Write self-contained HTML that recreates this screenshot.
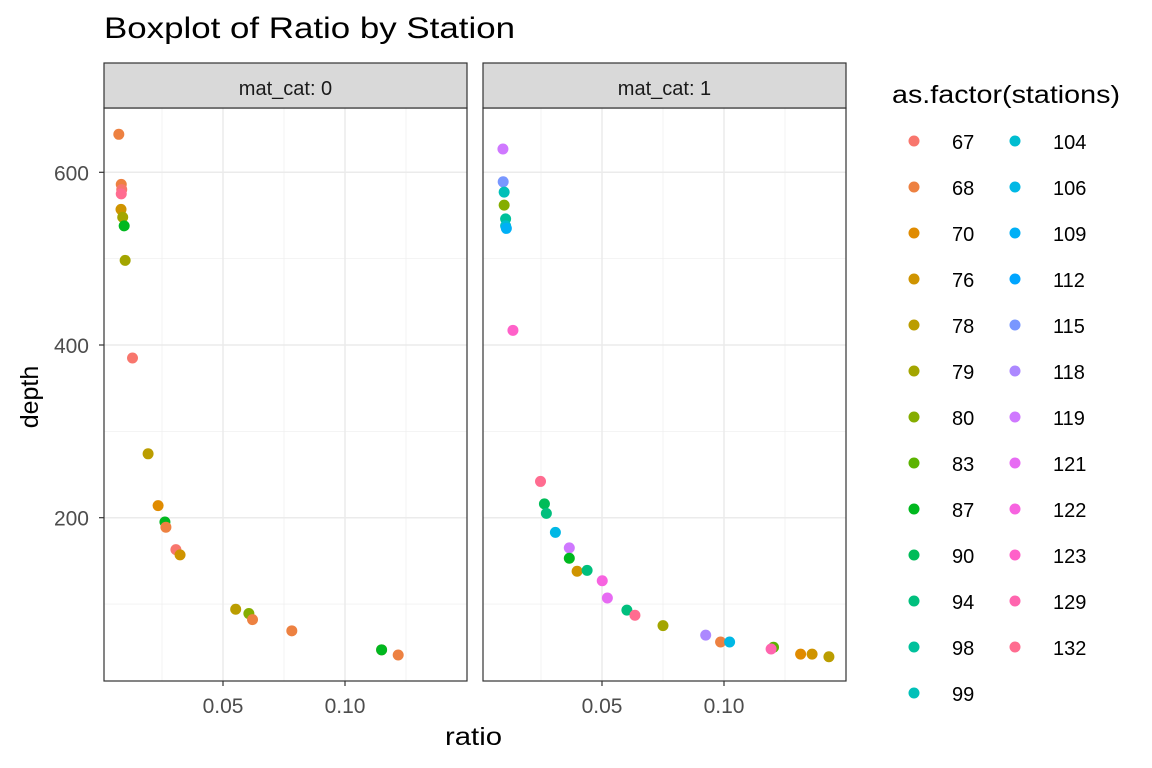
<!DOCTYPE html>
<html><head><meta charset="utf-8"><style>
body{margin:0;background:#fff;}
svg{display:block;font-family:"Liberation Sans",sans-serif;}
</style></head><body>
<svg id="chart" width="1152" height="768"></svg>
<script>
const levels=[67,68,70,76,78,79,80,83,87,90,94,98,99,104,106,109,112,115,118,119,121,122,123,129,132];
const p0Station=[68,68,67,132,76,79,87,79,67,78,70,87,68,67,76,78,80,68,68,67,87,68];
const p0Ratio=[0.0073,0.0083,0.0085,0.0083,0.0082,0.0089,0.0095,0.0099,0.0129,0.0193,0.0234,0.0262,0.0266,0.0307,0.0324,0.0552,0.0606,0.0621,0.0782,0.115,0.115,0.1218];
const p0Depth=[644,586,580,575,557,548,538,498,385,274,214,195,189,163,157,94,89,82,69,47,47,41];
const p1Station=[119,115,99,80,98,104,109,123,132,90,94,106,119,87,76,94,122,121,94,132,79,118,68,106,83,129,70,76,78];
const p1Ratio=[0.0094,0.0095,0.0099,0.0099,0.0105,0.0105,0.0108,0.0135,0.0248,0.0264,0.0272,0.0309,0.0366,0.0366,0.0398,0.0439,0.0501,0.0522,0.0602,0.0635,0.075,0.0925,0.0986,0.1023,0.1203,0.1193,0.1314,0.1361,0.143];
const p1Depth=[627,589,577,562,546,538,535,417,242,216,205,183,165,153,138,139,127,107,93,87,75,64,56,56,50,48,42,42,39];
const xTicks=[0.05,0.10];
const xTickLabels=["0.05","0.10"];
const yTicks=[200,400,600];

function hcl(h){const L=65,C=100,hr=h*Math.PI/180;const u=C*Math.cos(hr),v=C*Math.sin(hr);
 const Xn=95.047,Yn=100,Zn=108.883;const un=4*Xn/(Xn+15*Yn+3*Zn),vn=9*Yn/(Xn+15*Yn+3*Zn);
 const Y=Yn*Math.pow((L+16)/116,3);const up=u/(13*L)+un,vp=v/(13*L)+vn;
 const X=Y*9*up/(4*vp),Z=Y*(12-3*up-20*vp)/(4*vp);
 const x=X/100,y=Y/100,z=Z/100;
 let r=3.2406*x-1.5372*y-0.4986*z,g=-0.9689*x+1.8758*y+0.0415*z,b=0.0557*x-0.2040*y+1.0570*z;
 const f=c=>{c=c<=0.0031308?12.92*c:1.055*Math.pow(c,1/2.4)-0.055;return Math.round(Math.max(0,Math.min(1,c))*255);};
 return `rgb(${f(r)},${f(g)},${f(b)})`;}
const colors={};levels.forEach((l,i)=>colors[l]=hcl(15+360*i/levels.length));

const svg=document.getElementById('chart');const NS="http://www.w3.org/2000/svg";
function el(t,a,p){const e=document.createElementNS(NS,t);for(const k in a)e.setAttribute(k,a[k]);(p||svg).appendChild(e);return e;}
const panelTop=108,panelBot=681;
const ys=v=>345-(v-400)*0.8635;
const panels=[{l:104,r:467,lab:"mat_cat: 0",st:p0Station,rx:p0Ratio,d:p0Depth},{l:483,r:846,lab:"mat_cat: 1",st:p1Station,rx:p1Ratio,d:p1Depth}];
let t=el('text',{x:104,y:38,'font-size':'30',fill:'#000',textLength:'411',lengthAdjust:'spacingAndGlyphs'});t.textContent="Boxplot of Ratio by Station";


panels.forEach((p,pi)=>{
 const xs=v=>p.l+119+(v-0.05)*2440;
 const g=el('g',{});
 
 
 el('rect',{x:p.l,y:panelTop,width:p.r-p.l,height:panelBot-panelTop,fill:'#fff'},g);
 [0.025,0.075,0.125].forEach(v=>el('line',{x1:xs(v),x2:xs(v),y1:panelTop,y2:panelBot,stroke:'#f0f0f0','stroke-width':0.8},g));
 [100,300,500].forEach(v=>el('line',{x1:p.l,x2:p.r,y1:ys(v),y2:ys(v),stroke:'#f0f0f0','stroke-width':0.8},g));
 xTicks.forEach((v,i)=>{el('line',{x1:xs(v),x2:xs(v),y1:panelTop,y2:panelBot,stroke:'#ebebeb','stroke-width':1.5},g);
  el('line',{x1:xs(v),x2:xs(v),y1:panelBot,y2:panelBot+5,stroke:'#333','stroke-width':1.2},g);
  const tx=el('text',{x:xs(v),y:713,'font-size':'21','text-anchor':'middle',fill:'#4d4d4d'},g);tx.textContent=xTickLabels[i];
  
  });
 yTicks.forEach(v=>el('line',{x1:p.l,x2:p.r,y1:ys(v),y2:ys(v),stroke:'#ebebeb','stroke-width':1.5},g));
 p.rx.forEach((r,i)=>{const c=el('circle',{cx:xs(r),cy:ys(p.d[i]),r:5.5,fill:colors[p.st[i]]},g);
  
  });
 el('rect',{x:p.l,y:panelTop,width:p.r-p.l,height:panelBot-panelTop,fill:'none',stroke:'#333','stroke-width':1.2},g);
 const s=el('rect',{x:p.l,y:63,width:p.r-p.l,height:45,fill:'#d9d9d9',stroke:'#333','stroke-width':1.2},g);
 
 
 const st=el('text',{x:(p.l+p.r)/2,y:95,'font-size':'20','text-anchor':'middle',fill:'#1a1a1a'},g);st.textContent=p.lab;
});
yTicks.forEach(v=>{el('line',{x1:99,x2:104,y1:ys(v),y2:ys(v),stroke:'#333','stroke-width':1.2});
 const tx=el('text',{x:89,y:ys(v)+8,'font-size':'21','text-anchor':'end',fill:'#4d4d4d'});tx.textContent=v;
 
 });
t=el('text',{x:445,y:745,'font-size':'25',textLength:'57',lengthAdjust:'spacingAndGlyphs'});t.textContent="ratio";


t=el('text',{x:38,y:397,'font-size':'25','text-anchor':'middle',transform:'rotate(-90 38 397)'});t.textContent="depth";


t=el('text',{x:892,y:103,'font-size':'25',textLength:'228',lengthAdjust:'spacingAndGlyphs'});t.textContent="as.factor(stations)";


levels.forEach((l,i)=>{const col=i<13?0:1,row=i<13?i:i-13;const cx=col?1015:914,y=141+row*46;
 const g=el('g',{});
 
 
 el('circle',{cx:cx,cy:y,r:5.5,fill:colors[l]},g);
 const tx=el('text',{x:cx+38,y:y+8,'font-size':'20',fill:'#000'},g);tx.textContent=l;});
</script></body></html>
